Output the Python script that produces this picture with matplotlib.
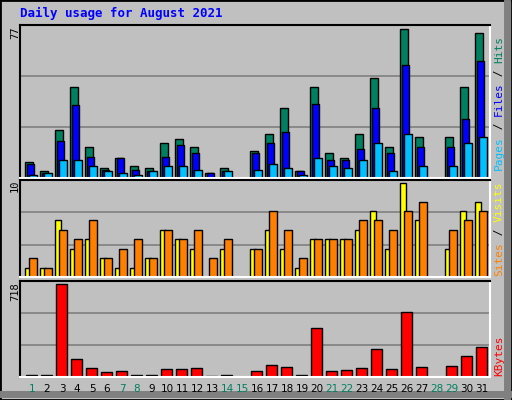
import matplotlib
matplotlib.use("Agg")
import matplotlib.pyplot as plt
from matplotlib.patches import Rectangle
from matplotlib.lines import Line2D

days = list(range(1, 32))
weekend = [1, 7, 8, 14, 15, 21, 22, 28, 29]
hits  = [8.5,3.4,24.7,47,16,5.4,10.5,6.4,5.4,18,20,16,2.4,5.4,0,14,22.7,36.4,3.4,47,13,10.5,22.7,52,16,77,21,0,21,47,75]
files = [7.3,2.4,19,38,11,4.4,10.5,4.4,3.4,11,17,13,2.4,3.4,0,13,18,23.7,3.4,38.4,9.5,9.5,15,36.4,13,58.8,16,0,16,30.8,60.8]
pages = [1.4,2.4,9.5,9.5,6.4,3.4,2.4,1.4,3.4,6.4,6.4,4.4,0,3.4,0,4.4,7.5,5.4,1.4,10.5,6.4,5.4,9.5,18,3.4,22.7,6.4,0,6.4,18,21]
visits = [1,1,6,3,4,2,1,1,2,5,4,3,0,3,0,3,5,3,1,4,4,4,5,7,3,10,6,0,3,7,8]
sites  = [2,1,5,4,6,2,3,4,2,5,4,5,2,4,0,3,7,5,2,4,4,4,6,6,5,7,8,0,5,6,7]
kbytes = [16,16,718,140,70,39,47,13,18,62,62,70,10,18,0,47,94,78,18,375,47,55,70,218,62,500,78,0,86,164,234]
max_top, max_mid, max_bot = 77, 10, 718

BG = "#C0C0C0"
W, H = 512, 400
fig = plt.figure(figsize=(5.12, 4.0), dpi=100, facecolor=BG)

def ax_px(x0, y0, x1, y1):
    return fig.add_axes([x0/W, 1-y1/H, (x1-x0)/W, (y1-y0)/H])

# frame
fig.add_artist(Rectangle((0, 0), 1, 1, transform=fig.transFigure, fill=False, edgecolor="black", lw=2))
fig.add_artist(Line2D([507/W, 507/W], [3/H, 1-3/H], transform=fig.transFigure, color="#808080", lw=5))
fig.add_artist(Line2D([3/W, 1-3/W], [6/H, 6/H], transform=fig.transFigure, color="#808080", lw=5))

fig.text(20/W, 1-13/H, "Daily usage for August 2021", color="#0000FF", fontsize=9,
         fontweight="bold", family="DejaVu Sans Mono", va="center")

def setup(ax, ymax):
    ax.set_facecolor(BG)
    ax.set_xlim(-1/3, 31.0)
    ax.set_ylim(0, ymax)
    ax.set_xticks([]); ax.set_yticks([])
    for s in ("top", "left"):
        ax.spines[s].set_color("black"); ax.spines[s].set_linewidth(1.5)
    for s in ("bottom", "right"):
        ax.spines[s].set_color("white"); ax.spines[s].set_linewidth(1.5)
    for f in (1/3, 2/3):
        ax.axhline(f*ymax, color="#808080", lw=1.2, zorder=0)

x0 = [d-1 for d in days]
kw = dict(align="edge", edgecolor="black", linewidth=1, zorder=2)

ax1 = ax_px(20, 25, 490, 178)
setup(ax1, max_top*1.03)
ax1.bar(x0, hits, width=0.5, color="#008060", **kw)
ax1.bar([x+0.13 for x in x0], files, width=0.5, color="#0000FF", **kw)
ax1.bar([x+0.27 for x in x0], pages, width=0.5, color="#00C0FF", **kw)

ax2 = ax_px(20, 180, 490, 277)
setup(ax2, max_mid*1.03)
ax2.bar(x0, visits, width=0.4, color="#FFFF00", **kw)
ax2.bar([x+0.27 for x in x0], sites, width=0.5, color="#FF8000", **kw)

ax3 = ax_px(20, 281, 490, 377)
setup(ax3, max_bot*1.03)
ax3.bar([x+0.07 for x in x0], kbytes, width=0.7, color="#FF0000", **kw)

mono = "DejaVu Sans Mono"
for label, y in (("77", 33), ("10", 186), ("718", 292)):
    fig.text(15/W, 1-y/H, label, rotation=90, fontsize=7.5, family=mono, ha="center", va="center")

for d in days:
    col = "#008060" if d in weekend else "black"
    fig.text((25+15*(d-1)+7)/W, 1-389/H, str(d), color=col, fontsize=7.5, ha="center", va="center")

def vlabel(segs, ybottom):
    y = ybottom
    for txt, col in segs:
        fig.text(499/W, 1-y/H, txt, rotation=90, color=col, fontsize=8, family=mono,
                 ha="center", va="bottom")
        y -= len(txt)*6.7

vlabel([("Pages", "#00C0FF"), (" / ", "black"), ("Files", "#0000FF"), (" / ", "black"), ("Hits", "#008060")], 170)
vlabel([("Sites", "#FF8000"), (" / ", "black"), ("Visits", "#FFFF00")], 276)
vlabel([("KBytes", "#FF0000")], 376)

fig.savefig("out.png", dpi=100, facecolor=BG)
